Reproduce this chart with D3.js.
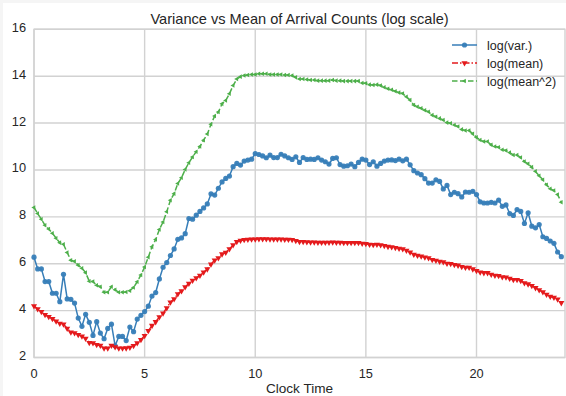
<!DOCTYPE html>
<html>
<head>
<meta charset="utf-8">
<script src="https://cdn.jsdelivr.net/npm/d3@7"></script>
<style>
  html, body { margin: 0; padding: 0; background: #f5f5f5; }
  svg { display: block; font-family: "Liberation Sans", Arial, Helvetica, sans-serif; }
</style>
</head>
<body>
<svg id="chart" width="566" height="396"></svg>
<script>
//
// Data (one value every 10 minutes, 0:00 .. 23:50)
//

const logVar = [
  6.28, 5.78, 5.78, 5.24, 5.24, 4.74, 4.74, 4.38, 5.55, 4.50,
  4.48, 4.32, 3.68, 3.33, 3.84, 3.50, 2.94, 3.53, 3.04, 2.80,
  3.24, 3.42, 2.50, 2.90, 2.90, 2.72, 3.30, 3.10, 3.64, 3.80,
  3.96, 4.19, 4.62, 4.77, 5.35, 5.85, 6.05, 6.35, 6.63, 7.04,
  7.10, 7.28, 7.93, 7.90, 8.07, 8.23, 8.38, 8.55, 8.98, 8.93,
  9.22, 9.49, 9.64, 9.74, 10.14, 10.28, 10.21, 10.38, 10.42, 10.46,
  10.70, 10.66, 10.60, 10.52, 10.63, 10.53, 10.53, 10.67, 10.60, 10.52,
  10.45, 10.56, 10.32, 10.53, 10.45, 10.46, 10.45, 10.52, 10.42, 10.35,
  10.25, 10.49, 10.52, 10.23, 10.16, 10.18, 10.25, 10.14, 10.32, 10.46,
  10.42, 10.23, 10.35, 10.16, 10.28, 10.38, 10.42, 10.43, 10.40, 10.46,
  10.39, 10.46, 10.22, 9.97, 9.87, 9.80, 9.63, 9.44, 9.44, 9.58,
  9.51, 9.19, 9.34, 8.95, 9.05, 8.99, 8.85, 9.06, 9.05, 9.09,
  8.95, 8.64, 8.59, 8.59, 8.62, 8.59, 8.71, 8.45, 8.51, 8.14,
  8.06, 8.31, 8.23, 7.72, 8.17, 7.60, 7.53, 7.67, 7.15, 7.08,
  6.97, 6.87, 6.50, 6.30,
];

const logMean = [
  4.20, 4.07, 3.95, 3.82, 3.74, 3.65, 3.55, 3.45, 3.42, 3.24,
  3.08, 3.05, 2.97, 2.91, 2.81, 2.63, 2.62, 2.54, 2.51, 2.39,
  2.39, 2.51, 2.45, 2.39, 2.39, 2.40, 2.43, 2.50, 2.62, 2.76,
  2.93, 3.14, 3.36, 3.52, 3.73, 3.89, 4.11, 4.36, 4.50, 4.71,
  4.84, 5.01, 5.16, 5.28, 5.39, 5.50, 5.64, 5.77, 5.98, 6.15,
  6.24, 6.41, 6.48, 6.63, 6.80, 6.94, 6.99, 7.02, 7.03, 7.04,
  7.04, 7.05, 7.05, 7.05, 7.04, 7.04, 7.04, 7.04, 7.03, 7.03,
  7.02, 6.98, 6.94, 6.94, 6.93, 6.92, 6.92, 6.91, 6.91, 6.91,
  6.91, 6.92, 6.91, 6.91, 6.90, 6.90, 6.90, 6.90, 6.90, 6.86,
  6.85, 6.82, 6.81, 6.82, 6.80, 6.77, 6.73, 6.71, 6.68, 6.65,
  6.63, 6.56, 6.49, 6.39, 6.35, 6.32, 6.28, 6.24, 6.17, 6.14,
  6.10, 6.07, 6.01, 6.00, 5.96, 5.93, 5.87, 5.84, 5.84, 5.77,
  5.70, 5.64, 5.61, 5.61, 5.54, 5.50, 5.49, 5.43, 5.42, 5.37,
  5.32, 5.32, 5.27, 5.18, 5.13, 5.06, 4.97, 4.88, 4.79, 4.69,
  4.60, 4.56, 4.48, 4.33,
];

const logMeanSq = [
  8.40, 8.14, 7.90, 7.64, 7.48, 7.30, 7.09, 6.90, 6.83, 6.48,
  6.15, 6.10, 5.94, 5.81, 5.62, 5.25, 5.24, 5.08, 5.02, 4.78,
  4.78, 5.02, 4.89, 4.78, 4.78, 4.79, 4.85, 4.99, 5.23, 5.52,
  5.86, 6.28, 6.72, 7.03, 7.46, 7.78, 8.22, 8.71, 8.99, 9.42,
  9.67, 10.02, 10.31, 10.55, 10.78, 11.00, 11.27, 11.53, 11.95, 12.30,
  12.47, 12.82, 12.96, 13.25, 13.60, 13.88, 13.98, 14.03, 14.05, 14.07,
  14.07, 14.10, 14.10, 14.10, 14.07, 14.07, 14.07, 14.07, 14.05, 14.05,
  14.03, 13.95, 13.88, 13.88, 13.86, 13.84, 13.84, 13.81, 13.81, 13.81,
  13.81, 13.84, 13.81, 13.81, 13.79, 13.79, 13.79, 13.79, 13.79, 13.71,
  13.70, 13.64, 13.62, 13.64, 13.60, 13.53, 13.46, 13.42, 13.36, 13.30,
  13.26, 13.12, 12.98, 12.77, 12.70, 12.63, 12.55, 12.48, 12.34, 12.27,
  12.20, 12.13, 12.02, 11.99, 11.92, 11.85, 11.73, 11.68, 11.68, 11.54,
  11.39, 11.28, 11.21, 11.21, 11.07, 11.00, 10.97, 10.86, 10.83, 10.74,
  10.64, 10.64, 10.53, 10.36, 10.26, 10.12, 9.94, 9.75, 9.58, 9.37,
  9.20, 9.12, 8.95, 8.62,
];

// clock time of each sample, in hours
const clockTime = d3.range(logVar.length).map((i) => i / 6);

const xTicks = [0, 5, 10, 15, 20];
const yTicks = [2, 4, 6, 8, 10, 12, 14, 16];

const series = [
  { name: "log(var.)", values: logVar, color: "#377eb8", dash: null, marker: "circle" },
  { name: "log(mean)", values: logMean, color: "#e41a1c", dash: "6,2,1.5,2", marker: "down" },
  { name: "log(mean^2)", values: logMeanSq, color: "#4daf4a", dash: "5.5,2.5", marker: "left" },
];

//
// Chart
//

const svg = d3.select("#chart");
const x = d3.scaleLinear().domain([0, 24]).range([34, 565]);
const y = d3.scaleLinear().domain([2, 16]).range([357.5, 29.3]);
const textColor = "#262626";
const gridColor = "#d2d2d2";

// figure background (thin grey border on the top/left like the original export)
svg.append("rect").attr("width", 566).attr("height", 396).attr("fill", "#f5f5f5");
svg.append("rect").attr("x", 3).attr("y", 3).attr("width", 563).attr("height", 393).attr("fill", "#fff");

// grid
const grid = svg.append("g").attr("stroke", gridColor).attr("stroke-width", 1.4);
grid.selectAll("line.gx")
  .data(xTicks)
  .enter()
  .append("line")
  .attr("x1", (d) => x(d))
  .attr("x2", (d) => x(d))
  .attr("y1", y(16))
  .attr("y2", y(2));
grid.selectAll("line.gy")
  .data(yTicks)
  .enter()
  .append("line")
  .attr("x1", x(0))
  .attr("x2", x(24))
  .attr("y1", (d) => y(d))
  .attr("y2", (d) => y(d));

// spines
svg.append("rect")
  .attr("x", x(0))
  .attr("y", y(16))
  .attr("width", x(24) - x(0))
  .attr("height", y(2) - y(16))
  .attr("fill", "none")
  .attr("stroke", gridColor)
  .attr("stroke-width", 1.4);

// tick labels
svg.append("g")
  .selectAll("text")
  .data(xTicks)
  .enter()
  .append("text")
  .attr("x", (d) => x(d))
  .attr("y", 377.5)
  .attr("text-anchor", "middle")
  .attr("font-size", 12.8)
  .attr("fill", textColor)
  .text((d) => d);

svg.append("g")
  .selectAll("text")
  .data(yTicks)
  .enter()
  .append("text")
  .attr("x", 26)
  .attr("y", (d) => y(d) + 2.5)
  .attr("text-anchor", "end")
  .attr("font-size", 12.8)
  .attr("fill", textColor)
  .text((d) => d);

// title + axis label
svg.append("text")
  .attr("x", (x(0) + x(24)) / 2)
  .attr("y", 24)
  .attr("text-anchor", "middle")
  .attr("font-size", 14.6)
  .attr("fill", textColor)
  .text("Variance vs Mean of Arrival Counts (log scale)");

svg.append("text")
  .attr("x", (x(0) + x(24)) / 2)
  .attr("y", 392.5)
  .attr("text-anchor", "middle")
  .attr("font-size", 13.6)
  .attr("fill", textColor)
  .text("Clock Time");

// markers
function mkmarker(g, kind, color) {
  if (kind === "circle") {
    return g.append("circle").attr("r", 2.6).attr("fill", color).attr("fill-opacity", 0.95);
  }
  const rot = kind === "down" ? 180 : -90;
  const size = kind === "down" ? 16 : 9;
  return g.append("path")
    .attr("d", d3.symbol(d3.symbolTriangle, size)())
    .attr("transform", `rotate(${rot})`)
    .attr("fill", color);
}

const line = d3.line()
  .x((d, i) => x(clockTime[i]))
  .y((d) => y(d));

series.forEach((s) => {
  const g = svg.append("g");
  g.append("path")
    .attr("d", line(s.values))
    .attr("fill", "none")
    .attr("stroke", s.color)
    .attr("stroke-width", 1.5)
    .attr("stroke-dasharray", s.dash);
  g.selectAll("g")
    .data(s.values)
    .enter()
    .append("g")
    .attr("transform", (d, i) => `translate(${x(clockTime[i])},${y(d)})`)
    .each(function () {
      mkmarker(d3.select(this), s.marker, s.color);
    });
});

// legend (no frame)
const legend = svg.append("g")
  .selectAll("g")
  .data(series)
  .enter()
  .append("g")
  .attr("transform", (d, i) => `translate(452,${45 + i * 18})`);

legend.append("line")
  .attr("x1", 0)
  .attr("x2", 25)
  .attr("stroke", (d) => d.color)
  .attr("stroke-width", 1.5)
  .attr("stroke-dasharray", (d) => d.dash);
legend.append("g")
  .attr("transform", "translate(12.5,0)")
  .each(function (d) {
    mkmarker(d3.select(this), d.marker, d.color);
  });
legend.append("text")
  .attr("x", 35)
  .attr("y", 4.5)
  .attr("font-size", 12.5)
  .attr("fill", textColor)
  .text((d) => d.name);
</script>
</body>
</html>
